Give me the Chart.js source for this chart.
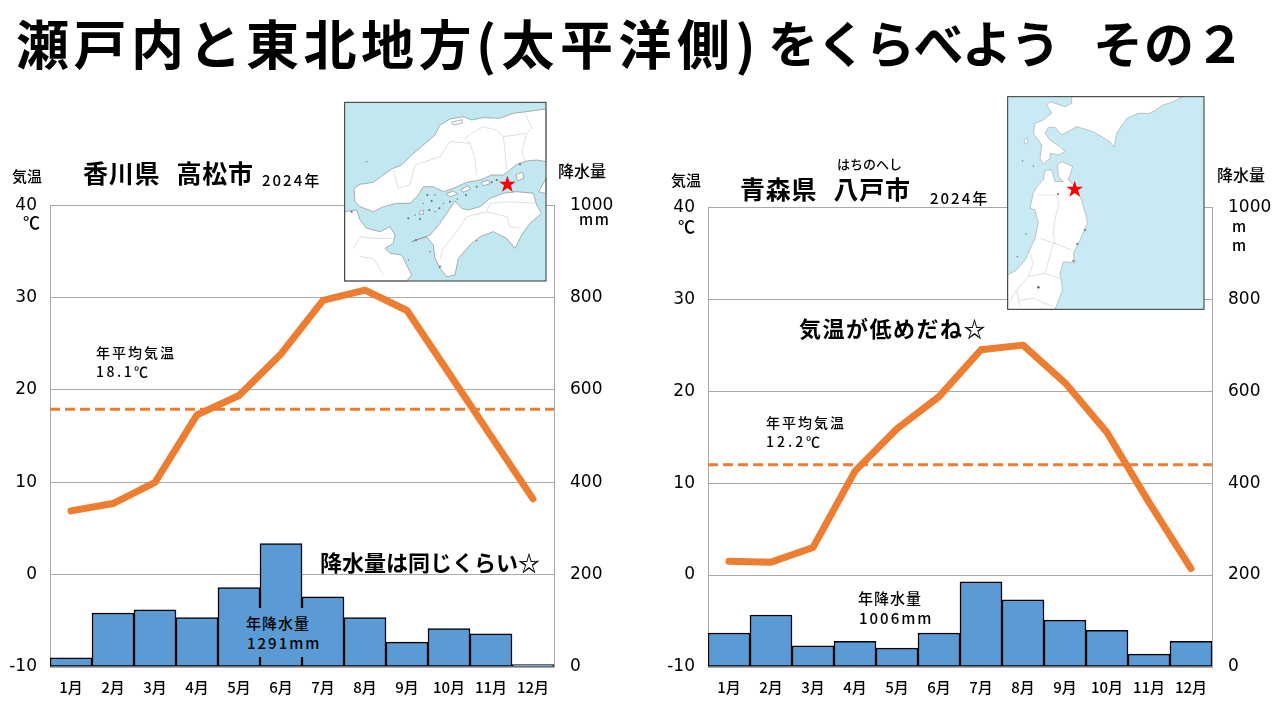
<!DOCTYPE html>
<html lang="ja">
<head>
<meta charset="UTF-8">
<title>瀬戸内と東北地方(太平洋側)をくらべよう その2</title>
<script src="https://cdn.jsdelivr.net/npm/chart.js"></script>
<style>
    html, body { margin: 0; padding: 0; background: #fff; }
    body { width: 1280px; height: 720px; position: relative; overflow: hidden; font-family: "Noto Sans CJK JP", sans-serif; color: #000; }
    canvas { position: absolute; }
    .t { position: absolute; white-space: pre; line-height: 1; z-index: 3; font-weight: 500; }
    .b { font-weight: 700; }
    .title span { position: absolute; top: 16px; font-size: 53px; }
    svg { position: absolute; z-index: 2; }
    .land { fill: #fff; stroke: #8a8a8a; stroke-width: 2; stroke-linejoin: round; }
    .light .land { stroke: #a8a8a8; }
    .pref { fill: none; stroke: #cfcfcf; stroke-width: 2; stroke-linejoin: round; }
    .speck { fill: #666; }
    .frame { fill: none; stroke: #333; stroke-width: 3; }
    .star { fill: #ff0000; }
</style>
</head>
<body>
<div class="t b title" style="left:0;top:0">
<span style="left:16px;letter-spacing:4.5px">瀬戸内と東北地方</span><span style="left:476px;letter-spacing:5.5px">(太平洋側)</span><span style="left:768px;font-size:50px;letter-spacing:-1.5px">をくらべよう</span><span style="left:1093px;font-size:50px;letter-spacing:1px">その２</span>
</div>

<canvas id="chart-takamatsu" width="640" height="541" style="left:0;top:179px"></canvas>
<canvas id="chart-hachinohe" width="620" height="539" style="left:660px;top:181px"></canvas>

<!-- 地図: 高松 -->
<svg viewBox="0 0 645 585" width="215" height="195" style="left:340px;top:95px">
    <rect x="14" y="22" width="604" height="536" fill="#c1e7f0"/>
    <path class="land" d="M42 280L60 268L100 262L130 240L155 222L185 210L215 180L250 150L285 120L300 90L330 72L370 65L395 75L430 68L480 70L520 55L560 50L618 42L618 200L590 195L560 198L530 208L510 225L490 240L455 240L420 255L380 262L340 280L310 290L280 275L250 275L235 300L210 325L170 325L130 335L100 350L60 335L45 320Z"/>
    <path class="land" d="M215 440L270 420L300 385L345 318L365 340L385 345L420 335L450 310L490 295L530 290L580 295L590 330L605 355L570 385L545 420L525 460L500 430L460 410L420 425L390 450L355 490L345 540L320 545L300 520L285 490L280 450L260 425Z"/>
    <path class="land" d="M14 350L50 345L60 375L80 400L120 410L150 395L165 420L160 445L135 460L150 475L185 480L200 510L215 540L200 558L14 558Z"/>
    <path class="land" d="M596 290L618 250L618 296Z"/>
    <path class="land" d="M528 238L548 232L552 250L532 258Z"/>
    <path class="land" d="M334 82L366 74L368 84L340 90Z"/>
    <path class="land" d="M240 348L250 345L250 358L238 358Z"/>
    <path class="land" d="M318 296L340 288L352 296L330 306Z"/>
    <path class="land" d="M362 284L384 272L392 282L370 292Z"/>
    <path class="land" d="M424 262L444 256L450 266L430 272Z"/>
    <path class="pref" d="M160 225L175 280L210 270L225 210L300 185L330 140L390 145L405 190L410 240"/>
    <path class="pref" d="M390 145L375 130L395 115L430 95L470 105L490 125L560 115L575 100L555 55M490 125L495 170L500 225M560 115L545 170L555 200"/>
    <path class="pref" d="M450 325L500 320L590 325M450 325L440 350L380 365L350 410L310 460L300 490M440 350L500 365L510 395L540 400"/>
    <path class="pref" d="M40 460L60 425L100 430L160 430M60 485L100 490L130 540"/>
    <g class="speck">
        <circle cx="262" cy="300" r="3"/><circle cx="275" cy="318" r="3"/><circle cx="298" cy="340" r="3"/><circle cx="240" cy="372" r="3"/><circle cx="330" cy="320" r="3"/>
        <circle cx="352" cy="312" r="2"/><circle cx="378" cy="300" r="3"/><circle cx="410" cy="275" r="3"/><circle cx="455" cy="262" r="3"/><circle cx="470" cy="255" r="3"/>
        <circle cx="80" cy="200" r="2"/><circle cx="35" cy="350" r="3"/><circle cx="205" cy="370" r="3"/><circle cx="268" cy="345" r="3"/><circle cx="540" cy="208" r="3"/>
        <circle cx="250" cy="325" r="2"/><circle cx="285" cy="300" r="2"/><circle cx="310" cy="325" r="2"/><circle cx="225" cy="360" r="2"/><circle cx="285" cy="350" r="2"/>
        <circle cx="228" cy="435" r="3"/><circle cx="270" cy="470" r="2"/><circle cx="205" cy="495" r="2"/><circle cx="410" cy="437" r="2"/><circle cx="300" cy="515" r="3"/>
    </g>
    <polygon class="star" points="502,242 508,260 527,260 512,271 518,290 502,279 486,290 492,271 477,260 496,260"/>
    <rect class="frame" x="14" y="22" width="604" height="536"/>
</svg>

<!-- 地図: 八戸 -->
<svg class="light" viewBox="0 0 645 675" width="215" height="225" style="left:1000px;top:90px">
    <rect x="23" y="20" width="589" height="638" fill="#c8eaf3"/>
    <path class="land" d="M215 20L215 40L195 50L150 35L140 45L155 70L130 90L105 100L100 130L125 165L120 205L130 222L150 205L150 190L175 195L195 185L180 170L150 150L135 130L145 112L165 112L185 135L230 110L280 125L330 155L342 172L350 130L380 85L415 70L450 70L490 45L520 35L548 20Z"/>
    <path class="land" d="M23 555L50 540L75 510L105 445L115 400L105 360L90 355L100 310L110 290L130 270L135 240L155 240L165 275L190 275L175 260L172 225L185 215L218 230L205 270L225 290L245 330L260 385L262 400L240 450L220 490L225 518L190 515L180 550L188 600L165 658L23 658Z"/>
    <path class="land" d="M72 150L82 143L84 156L76 162Z"/>
    <path class="pref" d="M110 315L170 315L178 340L165 385L160 430L165 460L120 445M165 460L215 480M160 460L135 550L180 565M90 490L100 520L85 560L135 550M85 560L50 600L25 640M50 600L60 650M60 630L100 625L160 650"/>
    <g class="speck">
        <circle cx="68" cy="213" r="2"/><circle cx="100" cy="228" r="2"/><circle cx="78" cy="432" r="2"/><circle cx="52" cy="500" r="2"/><circle cx="174" cy="312" r="3"/>
        <circle cx="232" cy="462" r="3"/><circle cx="255" cy="420" r="3"/><circle cx="220" cy="512" r="3"/><circle cx="115" cy="592" r="4"/>
    </g>
    <polygon class="star" points="224,272 230,290 249,290 234,301 240,320 224,309 208,320 214,301 199,290 218,290"/>
    <rect class="frame" x="23" y="20" width="589" height="638"/>
</svg>

<!-- 高松 -->
<div class="t" style="left:12px;top:168px;font-size:15px;">気温</div>
<div class="t b" style="left:83px;top:160px;font-size:25px;letter-spacing:0.7px;word-spacing:10px">香川県 高松市</div>
<div class="t" style="left:262px;top:172px;font-size:15px;letter-spacing:2px">2024年</div>
<div class="t" style="left:23px;top:213px;font-size:17px;">℃</div>
<div class="t" style="left:558px;top:162px;font-size:16px;">降水量</div>
<div class="t" style="left:579px;top:211px;font-size:15px;letter-spacing:1.5px">mm</div>
<div class="t" style="left:96px;top:345px;font-size:14px;letter-spacing:2px">年平均気温</div>
<div class="t" style="left:96px;top:364px;font-size:14px;letter-spacing:2.5px">18.1℃</div>
<div class="t b" style="left:320px;top:550px;font-size:22px;">降水量は同じくらい☆</div>
<div class="t" style="left:240px;top:608px;width:85px;height:49px;background:#5b9bd5;z-index:2"></div>
<div class="t" style="left:246px;top:615px;font-size:15px;letter-spacing:1px">年降水量</div>
<div class="t" style="left:247px;top:635px;font-size:15px;letter-spacing:2px">1291mm</div>

<!-- 八戸 -->
<div class="t" style="left:671px;top:172px;font-size:15px;">気温</div>
<div class="t" style="left:837px;top:157px;font-size:13px;">はちのへし</div>
<div class="t b" style="left:740px;top:176px;font-size:25px;letter-spacing:0.7px;word-spacing:10px">青森県 八戸市</div>
<div class="t" style="left:930px;top:190px;font-size:15px;letter-spacing:2px">2024年</div>
<div class="t" style="left:678px;top:217px;font-size:17px;">℃</div>
<div class="t" style="left:1217px;top:166px;font-size:16px;">降水量</div>
<div class="t" style="left:1232px;top:218px;font-size:15px;">m</div>
<div class="t" style="left:1232px;top:237px;font-size:15px;">m</div>
<div class="t b" style="left:799px;top:316px;font-size:22px;letter-spacing:1.5px">気温が低めだね☆</div>
<div class="t" style="left:766px;top:415px;font-size:14px;letter-spacing:2px">年平均気温</div>
<div class="t" style="left:766px;top:434px;font-size:14px;letter-spacing:3px">12.2℃</div>
<div class="t" style="left:858px;top:590px;font-size:15px;letter-spacing:1px">年降水量</div>
<div class="t" style="left:859px;top:610px;font-size:15px;letter-spacing:2px">1006mm</div>

<script>
    const months = ['1月', '2月', '3月', '4月', '5月', '6月', '7月', '8月', '9月', '10月', '11月', '12月'];
    const tempTicks = [40, 30, 20, 10, 0, -10];
    const rainTicks = [1000, 800, 600, 400, 200, 0];

    const takamatsuTemp = [6.9, 7.7, 10.0, 17.3, 19.4, 23.9, 29.7, 30.8, 28.6, 21.8, 15.0, 8.2];
    const takamatsuRain = [20, 117, 124, 107, 172, 267, 152, 107, 54, 83, 72, 5];
    const takamatsuAvgLine = 17.9;

    const hachinoheTemp = [1.5, 1.4, 3.0, 11.3, 15.9, 19.4, 24.5, 25.0, 20.9, 15.5, 7.9, 0.7];
    const hachinoheRain = [74, 113, 46, 56, 41, 74, 185, 146, 102, 80, 28, 56];
    const hachinoheAvgLine = 12.0;

    const orange = '#ed7d31';
    const gridGray = '#a9a9a9';

    function drawChart(id, temp, rain, avg, box) {
        const ctx = document.getElementById(id).getContext('2d');
        return new Chart(ctx, {
            data: {
                labels: months,
                datasets: [
                    {
                        type: 'line', data: temp, yAxisID: 'yTemp', order: 1,
                        borderColor: orange, borderWidth: 7, pointRadius: 0, tension: 0,
                        borderCapStyle: 'round', borderJoinStyle: 'round'
                    },
                    {
                        // 年平均気温の点線はグラフの端から端まで
                        type: 'line', data: [{ x: 0, y: avg }, { x: 1, y: avg }], xAxisID: 'xAvg', yAxisID: 'yTemp', order: 2,
                        borderColor: orange, borderWidth: 3, borderDash: [10, 5], pointRadius: 0
                    },
                    {
                        type: 'bar', data: rain, yAxisID: 'yRain', order: 3, grouped: false,
                        backgroundColor: '#5b9bd5', borderColor: '#000', borderWidth: 1.5, borderSkipped: false,
                        categoryPercentage: 1, barPercentage: 1
                    }
                ]
            },
            options: {
                responsive: false,
                animation: false,
                layout: { padding: { top: box.top, left: 0, right: 0, bottom: 0 } },
                plugins: { legend: { display: false }, tooltip: { enabled: false } },
                scales: {
                    x: {
                        grid: { display: false }, border: { display: false },
                        ticks: { color: '#000', padding: 3, autoSkip: false, maxRotation: 0, font: { family: '"Noto Sans CJK JP"', size: 15, weight: '500' } },
                        afterFit: s => { s.height = box.bottom; }
                    },
                    xAvg: { type: 'linear', display: false, min: 0, max: 1 },
                    yTemp: {
                        position: 'left', min: -10, max: 40,
                        grid: { color: gridGray, drawTicks: false },
                        border: { color: gridGray },
                        afterBuildTicks: s => { s.ticks = tempTicks.map(v => ({ value: v })); },
                        ticks: { color: '#000', padding: 13, callback: v => String(v), font: { family: '"DejaVu Sans"', size: 17 } },
                        afterFit: s => { s.width = box.left; }
                    },
                    yRain: {
                        position: 'right', min: 0, max: 1000,
                        grid: { drawOnChartArea: false, drawTicks: false },
                        border: { color: gridGray },
                        afterBuildTicks: s => { s.ticks = rainTicks.map(v => ({ value: v })); },
                        ticks: { color: '#000', padding: 16, callback: v => String(v), font: { family: '"DejaVu Sans"', size: 17 } },
                        afterFit: s => { s.width = box.right; }
                    }
                }
            }
        });
    }

    drawChart('chart-takamatsu', takamatsuTemp, takamatsuRain, takamatsuAvgLine, { top: 5, left: 50, right: 86, bottom: 53 });
    drawChart('chart-hachinohe', hachinoheTemp, hachinoheRain, hachinoheAvgLine, { top: 5, left: 48, right: 68, bottom: 53 });
</script>
</body>
</html>
